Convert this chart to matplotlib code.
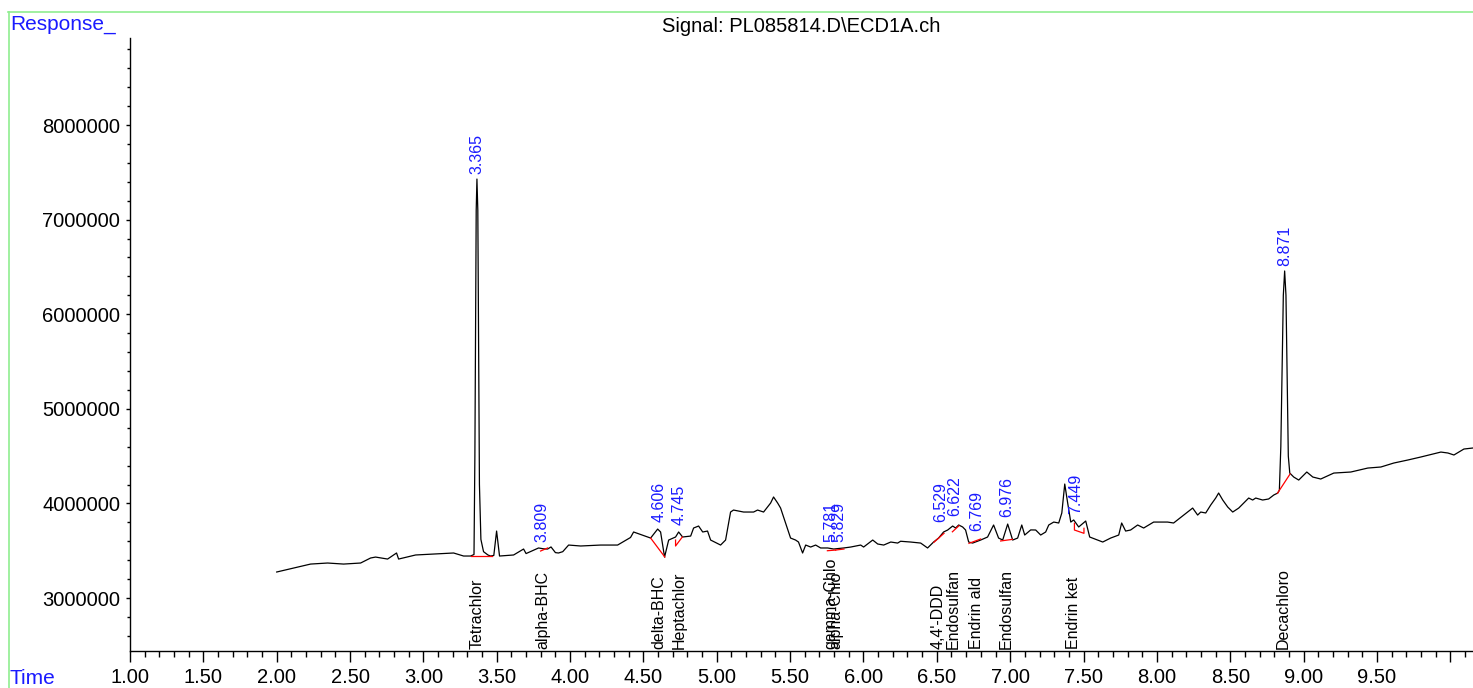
import matplotlib
matplotlib.use("Agg")
import matplotlib.pyplot as plt
from matplotlib.ticker import MultipleLocator, FixedLocator, FuncFormatter
from matplotlib.lines import Line2D
import matplotlib.transforms as mtransforms

plt.rcParams['font.family'] = ['Liberation Sans', 'DejaVu Sans']

# ---------------- data ----------------
time = [2.000, 2.115, 2.231, 2.347, 2.456, 2.572, 2.640, 2.674, 2.756, 2.817,
        2.831, 2.947, 3.069, 3.206, 3.274, 3.322, 3.345, 3.351, 3.360, 3.365,
        3.371, 3.382, 3.392, 3.410, 3.440, 3.458, 3.480, 3.499, 3.519, 3.615,
        3.683, 3.700, 3.785, 3.820, 3.847, 3.870, 3.900, 3.921, 3.950, 3.990,
        4.072, 4.208, 4.324, 4.412, 4.433, 4.549, 4.597, 4.617, 4.644, 4.672,
        4.719, 4.740, 4.767, 4.822, 4.842, 4.876, 4.904, 4.937, 4.958, 5.026,
        5.060, 5.094, 5.114, 5.183, 5.251, 5.278, 5.319, 5.367, 5.387, 5.415,
        5.435, 5.469, 5.503, 5.537, 5.557, 5.585, 5.606, 5.640, 5.674, 5.708,
        5.756, 5.797, 5.865, 5.913, 5.981, 6.001, 6.063, 6.097, 6.138, 6.186,
        6.233, 6.253, 6.321, 6.390, 6.437, 6.478, 6.512, 6.546, 6.574, 6.608,
        6.628, 6.649, 6.676, 6.696, 6.717, 6.744, 6.799, 6.846, 6.887, 6.921,
        6.949, 6.983, 7.017, 7.051, 7.079, 7.099, 7.140, 7.174, 7.208, 7.242,
        7.263, 7.297, 7.331, 7.352, 7.372, 7.392, 7.413, 7.433, 7.467, 7.515,
        7.542, 7.597, 7.631, 7.685, 7.740, 7.760, 7.787, 7.821, 7.869, 7.910,
        7.978, 8.073, 8.114, 8.183, 8.244, 8.278, 8.299, 8.333, 8.367, 8.401,
        8.421, 8.449, 8.483, 8.517, 8.558, 8.592, 8.626, 8.653, 8.674, 8.721,
        8.762, 8.797, 8.824, 8.835, 8.845, 8.862, 8.871, 8.880, 8.896, 8.906,
        8.933, 8.967, 9.022, 9.063, 9.117, 9.206, 9.322, 9.438, 9.527, 9.615,
        9.711, 9.800, 9.936, 9.984, 10.025, 10.093, 10.155]
response = [3275000, 3317000, 3359000, 3370000, 3359000, 3370000, 3423000, 3433000, 3412000, 3476000,
            3412000, 3455000, 3465000, 3476000, 3444000, 3444000, 3460000, 4500000, 7100000, 7429000,
            7100000, 4200000, 3620000, 3490000, 3455000, 3444000, 3450000, 3708000, 3444000, 3455000,
            3518000, 3470000, 3529000, 3520000, 3518000, 3540000, 3480000, 3476000, 3490000, 3560000,
            3550000, 3560000, 3560000, 3640000, 3698000, 3634000, 3729000, 3698000, 3433000, 3613000,
            3645000, 3698000, 3645000, 3655000, 3740000, 3761000, 3698000, 3708000, 3613000, 3560000,
            3613000, 3909000, 3930000, 3909000, 3909000, 3930000, 3909000, 4004000, 4068000, 4004000,
            3951000, 3793000, 3634000, 3613000, 3592000, 3476000, 3560000, 3539000, 3560000, 3529000,
            3529000, 3518000, 3529000, 3539000, 3560000, 3539000, 3613000, 3571000, 3560000, 3592000,
            3581000, 3600000, 3592000, 3581000, 3529000, 3592000, 3634000, 3698000, 3719000, 3761000,
            3740000, 3772000, 3751000, 3719000, 3592000, 3581000, 3613000, 3645000, 3772000, 3634000,
            3613000, 3782000, 3613000, 3634000, 3772000, 3666000, 3720000, 3719000, 3666000, 3698000,
            3772000, 3803000, 3793000, 3899000, 4205000, 4004000, 3803000, 3825000, 3751000, 3814000,
            3645000, 3613000, 3592000, 3634000, 3666000, 3793000, 3708000, 3719000, 3772000, 3740000,
            3803000, 3803000, 3793000, 3877000, 3951000, 3877000, 3909000, 3899000, 3983000, 4057000,
            4110000, 4036000, 3962000, 3909000, 3951000, 4004000, 4057000, 4036000, 4057000, 4036000,
            4047000, 4089000, 4110000, 4140000, 4600000, 6200000, 6457000, 6200000, 4500000, 4321000,
            4279000, 4247000, 4332000, 4279000, 4258000, 4321000, 4332000, 4374000, 4385000, 4427000,
            4459000, 4491000, 4543000, 4533000, 4512000, 4575000, 4586000]

# integrated peaks: retention time label, apex response
peak_rt = [3.365, 3.809, 4.606, 4.745, 5.781, 5.829, 6.529, 6.622, 6.769, 6.976, 7.449, 8.871]
peak_labels = ["3.365", "3.809", "4.606", "4.745", "5.781", "5.829",
               "6.529", "6.622", "6.769", "6.976", "7.449", "8.871"]
peak_height = [7440000, 3550000, 3760000, 3730000, 3550000, 3550000,
               3760000, 3820000, 3660000, 3810000, 3840000, 6470000]

# integration baselines (red), one polyline per peak
base_t = [[3.322, 3.465], [3.799, 3.847], [4.549, 4.646], [4.719, 4.719, 4.765],
          [5.754, 5.810], [5.810, 5.867], [6.480, 6.549], [6.606, 6.651],
          [6.719, 6.799], [6.935, 7.015], [7.438, 7.438, 7.503, 7.503], [8.822, 8.908]]
base_r = [[3444000, 3444000], [3497000, 3529000], [3634000, 3433000], [3613000, 3550000, 3645000],
          [3500000, 3507000], [3507000, 3518000], [3589000, 3684000], [3700000, 3764000],
          [3578000, 3624000], [3603000, 3620000], [3790000, 3719000, 3684000, 3737000], [4107000, 4311000]]

# compound names
compound_rt = [3.369, 3.812, 4.603, 4.746, 5.775, 5.812, 6.512, 6.615, 6.772, 6.976, 7.434, 8.864]
compound_names = ["Tetrachlor", "alpha-BHC", "delta-BHC", "Heptachlor", "gamma-Chlo", "alpha-Chlo",
                  "4,4'-DDD", "Endosulfan", "Endrin ald", "Endosulfan", "Endrin ket", "Decachloro"]

x_major = [1.0, 1.5, 2.0, 2.5, 3.0, 3.5, 4.0, 4.5, 5.0, 5.5, 6.0, 6.5, 7.0, 7.5, 8.0, 8.5, 9.0, 9.5, 10.0]
y_major = [3000000, 4000000, 5000000, 6000000, 7000000, 8000000]

title = "Signal: PL085814.D\\ECD1A.ch"

# ---------------- figure ----------------
W, H = 1473, 688
fig = plt.figure(figsize=(W / 100, H / 100), dpi=100)
ax = fig.add_axes([130 / W, 1 - 651 / H, 1 - 130 / W, (651 - 38) / H])

ax.plot(time, response, color='black', lw=0.9)
for bt, br in zip(base_t, base_r):
    ax.plot(bt, br, color='red', lw=0.9)

ax.set_xlim(1.0, 10.155)
ax.set_ylim(2440000, 8920000)

for s in ['top', 'right']:
    ax.spines[s].set_visible(False)
for s in ['left', 'bottom']:
    ax.spines[s].set_linewidth(1.0)

ax.xaxis.set_major_locator(FixedLocator(x_major))
ax.xaxis.set_minor_locator(MultipleLocator(0.1))
ax.xaxis.set_major_formatter(FuncFormatter(lambda v, p: "" if v > 9.9 else f"{v:.2f}"))
ax.yaxis.set_major_locator(FixedLocator(y_major))
ax.yaxis.set_minor_locator(MultipleLocator(200000))
ax.yaxis.set_major_formatter(FuncFormatter(lambda v, p: f"{int(round(v))}"))

ax.tick_params(axis='x', which='major', length=8, width=1, labelsize=14.5, pad=4, direction='out')
ax.tick_params(axis='x', which='minor', length=4.5, width=1, direction='out')
ax.tick_params(axis='y', which='major', length=3, width=1, labelsize=14.5, pad=4, direction='out')
ax.tick_params(axis='y', which='minor', length=2, width=1, direction='out')

# peak labels
for rt, lab, h in zip(peak_rt, peak_labels, peak_height):
    ax.annotate(lab, (rt, h), xytext=(0, 3), textcoords='offset points',
                rotation=90, ha='center', va='bottom', color='#1a1aff', fontsize=11.5)

# compound names
trans = mtransforms.blended_transform_factory(ax.transData, ax.transAxes)
for rt, nm in zip(compound_rt, compound_names):
    ax.text(rt, 0.003, nm, transform=trans, rotation=90, ha='center', va='bottom',
            color='black', fontsize=11.5)

# header texts
fig.text((130 + W) / 2 / W, 1 - 27 / H, title, ha='center', va='center', fontsize=14.5, color='black')
fig.text(10 / W, 1 - 24 / H, "Response_", ha='left', va='center', fontsize=15, color='#1a1aff')
fig.text(10 / W, 1 - 679 / H, "Time", ha='left', va='center', fontsize=15, color='#1a1aff')

# green frame
fig.add_artist(Line2D([8 / W, 1.0], [1 - 11.5 / H, 1 - 11.5 / H], color='#90ee90', lw=1.2))
fig.add_artist(Line2D([8.5 / W, 8.5 / W], [0.0, 1 - 11.5 / H], color='#90ee90', lw=1.2))

fig.savefig("out.png", dpi=100)
